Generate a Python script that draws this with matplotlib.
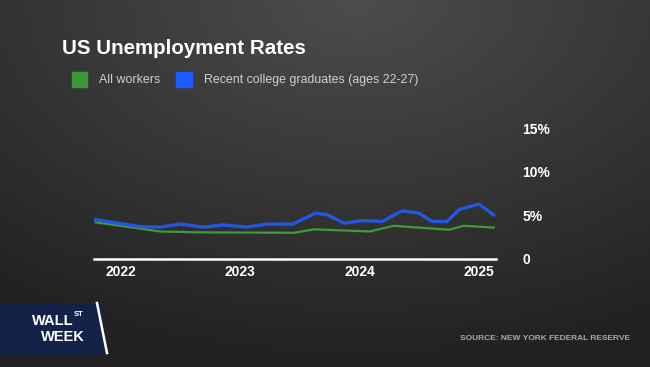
import numpy as np
import pandas as pd
import matplotlib
matplotlib.use('Agg')
import matplotlib.pyplot as plt
from matplotlib.patches import Rectangle
from matplotlib.lines import Line2D

# data (percent)
grad_dates = ['2021-10-15', '2022-03-01', '2022-05-01', '2022-07-01', '2022-09-10',
              '2022-11-10', '2023-01-20', '2023-03-25', '2023-06-10', '2023-08-20',
              '2023-09-25', '2023-11-15', '2024-01-10', '2024-03-10', '2024-05-10',
              '2024-07-01', '2024-08-10', '2024-09-25', '2024-11-01', '2025-01-01',
              '2025-02-15']
grad_rate = [4.5, 3.7, 3.65, 4.0, 3.65, 3.9, 3.65, 4.0, 4.0, 5.25, 5.05, 4.1,
             4.4, 4.3, 5.5, 5.25, 4.3, 4.3, 5.65, 6.3, 5.05]

all_dates = ['2021-10-15', '2022-05-01', '2022-09-01', '2023-06-15', '2023-08-15',
             '2024-02-01', '2024-04-15', '2024-10-01', '2024-11-15', '2025-02-15']
all_rate = [4.2, 3.15, 3.05, 3.0, 3.4, 3.15, 3.8, 3.35, 3.8, 3.6]

year_ticks = ['2022-01-01', '2023-01-01', '2024-01-01', '2025-01-01']
year_labels = ['2022', '2023', '2024', '2025']
y_ticks = [0, 5, 10, 15]
y_labels = ['0', '5%', '10%', '15%']

grad_dates = pd.to_datetime(grad_dates)
all_dates = pd.to_datetime(all_dates)

plt.rcParams['font.family'] = ['Liberation Sans', 'DejaVu Sans']

fig = plt.figure(figsize=(6.5, 3.67), dpi=100)

# background gradient
bg = fig.add_axes([0, 0, 1, 1])
yy, xx = np.mgrid[0:1:200j, 0:1:360j]
d = np.sqrt(((xx - 0.55) * 1.1) ** 2 + ((yy - 0.0) * 1.0) ** 2)
shade = 0.30 - 0.17 * np.clip(d, 0, 1)
img = np.dstack([shade, shade, shade])
bg.imshow(img, extent=[0, 1, 0, 1], aspect='auto', origin='upper')
bg.set_xlim(0, 1)
bg.set_ylim(0, 1)
bg.axis('off')

# chart
ax = fig.add_axes([94 / 650, 108 / 367, 402 / 650, 131 / 367])
ax.patch.set_alpha(0)
ax.plot(all_dates, all_rate, color='#3f9a3f', lw=1.6, zorder=3)
ax.plot(grad_dates, grad_rate, color='#2457e0', lw=2.4, zorder=4)

ax.set_ylim(0, 15)
ax.set_xlim(pd.Timestamp('2021-10-10'), pd.Timestamp('2025-02-22'))
ax.set_xticks(pd.to_datetime(year_ticks))
ax.set_xticklabels(year_labels)
ax.set_yticks(y_ticks)
ax.set_yticklabels(y_labels)
ax.yaxis.tick_right()
ax.tick_params(axis='y', length=0, pad=19, labelsize=10, labelcolor='white')
ax.tick_params(axis='x', length=0, pad=4, labelsize=10, labelcolor='white')
for lab in ax.get_yticklabels() + ax.get_xticklabels():
    lab.set_fontweight('bold')
for s in ['top', 'right', 'left']:
    ax.spines[s].set_visible(False)
ax.spines['bottom'].set_color('white')
ax.spines['bottom'].set_linewidth(1.8)

# title and legend
fig.text(62 / 650, 1 - 48 / 367, 'US Unemployment Rates', color='white',
         fontsize=14.8, fontweight='bold', va='center', ha='left')
fig.patches.append(Rectangle((72 / 650, 1 - 87 / 367), 15 / 650, 15 / 367,
                             transform=fig.transFigure, color='#3a9a3a'))
fig.text(99 / 650, 1 - 80 / 367, 'All workers', color='#cfcfcf',
         fontsize=8.9, va='center', ha='left')
fig.patches.append(Rectangle((176 / 650, 1 - 87 / 367), 16 / 650, 15 / 367,
                             transform=fig.transFigure, color='#1a5cff'))
fig.text(204 / 650, 1 - 80 / 367, 'Recent college graduates (ages 22-27)',
         color='#cfcfcf', fontsize=8.9, va='center', ha='left')

# source
fig.text(630 / 650, 1 - 338 / 367, 'SOURCE: NEW YORK FEDERAL RESERVE',
         color='#a8a8a8', fontsize=6, fontweight='bold', va='center', ha='right')

# Wall St Week logo
fig.patches.append(Rectangle((0, 1 - 354 / 367), 102 / 650, 51 / 367,
                             transform=fig.transFigure, color='#14224a'))
fig.lines.append(Line2D([97 / 650, 107 / 650], [1 - 303 / 367, 1 - 353 / 367],
                        transform=fig.transFigure, color='white', lw=1.8))
fig.text(32 / 650, 1 - 321 / 367, 'WALL', color='white', fontsize=10.5,
         fontweight='bold', va='center', ha='left')
fig.text(74 / 650, 1 - 315 / 367, 'ST', color='white', fontsize=5.5,
         fontweight='bold', va='center', ha='left')
fig.text(41 / 650, 1 - 337 / 367, 'WEEK', color='white', fontsize=10.5,
         fontweight='bold', va='center', ha='left')

fig.savefig('out.png', dpi=100)
